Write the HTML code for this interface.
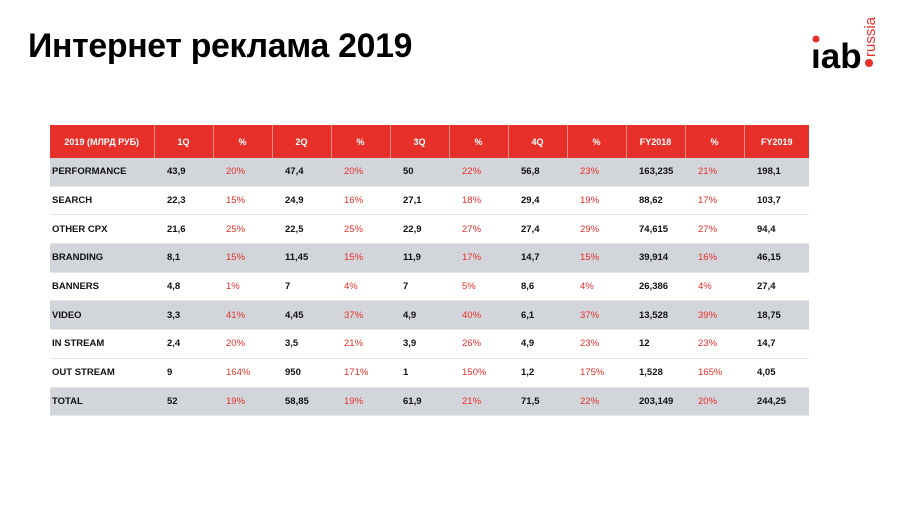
<!DOCTYPE html>
<html><head><meta charset="utf-8"><style>
body{margin:0;width:900px;height:506px;background:#fff;font-family:"Liberation Sans",Arial,sans-serif;position:relative;overflow:hidden}
h1{position:absolute;left:28px;top:27px;margin:0;font-size:33.8px;font-weight:bold;color:#000;letter-spacing:-0.3px}
.logo{position:absolute;left:810px;top:12px;width:75px;height:62px}
table{position:absolute;left:50px;top:125px;border-collapse:collapse;table-layout:fixed;width:759px}
th{background:#e8302a;color:#fff;font-size:9px;font-weight:bold;height:33px;text-align:center;border-left:1px solid #f08a85;padding:0}
th:first-child{border-left:none}
td{font-size:9.5px;font-weight:bold;color:#111;height:27.7px;padding:0 0 0 13px;border-bottom:1px solid #e4e6ea}
td:first-child{padding-left:2px}
td.p{color:#e8302a;font-weight:normal}
tr.g td{background:#d2d5da}
</style></head><body>
<h1>Интернет реклама 2019</h1>
<svg class="logo" viewBox="0 0 75 62">
<text x="1" y="56" font-family="Liberation Sans" font-weight="bold" font-size="35" fill="#000">ıab</text>
<circle cx="6" cy="27" r="3.5" fill="#e8302a"/>
<circle cx="59" cy="51" r="4" fill="#e8302a"/>
<text transform="translate(65,45) rotate(-90)" font-family="Liberation Sans" font-size="15" fill="#e8302a">russia</text>
</svg>
<table>
<colgroup><col style="width:104px"><col span="10" style="width:59px"><col style="width:65px"></colgroup>
<tr><th>2019 (МЛРД РУБ)</th><th>1Q</th><th>%</th><th>2Q</th><th>%</th><th>3Q</th><th>%</th><th>4Q</th><th>%</th><th>FY2018</th><th>%</th><th>FY2019</th></tr>
<tr class="g"><td>PERFORMANCE</td><td>43,9</td><td class="p">20%</td><td>47,4</td><td class="p">20%</td><td>50</td><td class="p">22%</td><td>56,8</td><td class="p">23%</td><td>163,235</td><td class="p">21%</td><td>198,1</td></tr>
<tr><td>SEARCH</td><td>22,3</td><td class="p">15%</td><td>24,9</td><td class="p">16%</td><td>27,1</td><td class="p">18%</td><td>29,4</td><td class="p">19%</td><td>88,62</td><td class="p">17%</td><td>103,7</td></tr>
<tr><td>OTHER CPX</td><td>21,6</td><td class="p">25%</td><td>22,5</td><td class="p">25%</td><td>22,9</td><td class="p">27%</td><td>27,4</td><td class="p">29%</td><td>74,615</td><td class="p">27%</td><td>94,4</td></tr>
<tr class="g"><td>BRANDING</td><td>8,1</td><td class="p">15%</td><td>11,45</td><td class="p">15%</td><td>11,9</td><td class="p">17%</td><td>14,7</td><td class="p">15%</td><td>39,914</td><td class="p">16%</td><td>46,15</td></tr>
<tr><td>BANNERS</td><td>4,8</td><td class="p">1%</td><td>7</td><td class="p">4%</td><td>7</td><td class="p">5%</td><td>8,6</td><td class="p">4%</td><td>26,386</td><td class="p">4%</td><td>27,4</td></tr>
<tr class="g"><td>VIDEO</td><td>3,3</td><td class="p">41%</td><td>4,45</td><td class="p">37%</td><td>4,9</td><td class="p">40%</td><td>6,1</td><td class="p">37%</td><td>13,528</td><td class="p">39%</td><td>18,75</td></tr>
<tr><td>IN STREAM</td><td>2,4</td><td class="p">20%</td><td>3,5</td><td class="p">21%</td><td>3,9</td><td class="p">26%</td><td>4,9</td><td class="p">23%</td><td>12</td><td class="p">23%</td><td>14,7</td></tr>
<tr><td>OUT STREAM</td><td>9</td><td class="p">164%</td><td>950</td><td class="p">171%</td><td>1</td><td class="p">150%</td><td>1,2</td><td class="p">175%</td><td>1,528</td><td class="p">165%</td><td>4,05</td></tr>
<tr class="g"><td>TOTAL</td><td>52</td><td class="p">19%</td><td>58,85</td><td class="p">19%</td><td>61,9</td><td class="p">21%</td><td>71,5</td><td class="p">22%</td><td>203,149</td><td class="p">20%</td><td>244,25</td></tr>
</table>
</body></html>
